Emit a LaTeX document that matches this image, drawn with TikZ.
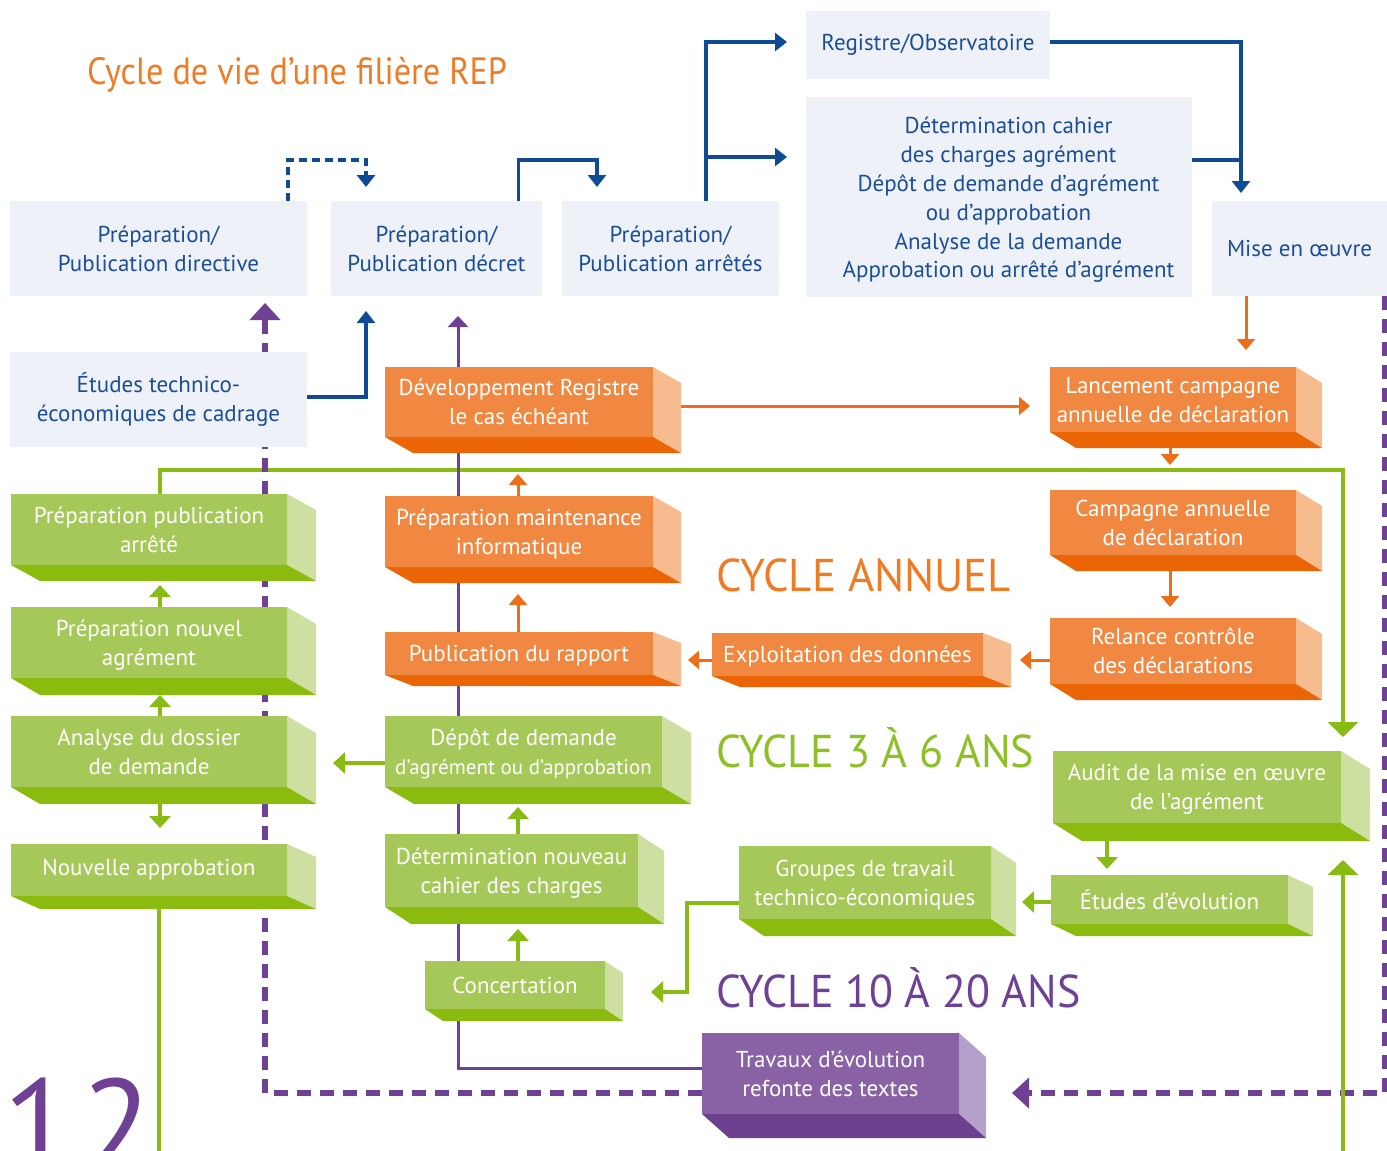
\documentclass[tikz,border=0pt]{standalone}
\usepackage{fontspec}
\setmainfont{PT Sans}
\usetikzlibrary{arrows.meta,calc}
\pgfdeclarelayer{bg}
\pgfsetlayers{bg,main}
\definecolor{colBfill}{HTML}{EEF2F8}
\definecolor{colBtext}{HTML}{1C4E96}
\definecolor{colBline}{HTML}{0E4B94}
\definecolor{colOF}{HTML}{F08842}
\definecolor{colOB}{HTML}{EB6405}
\definecolor{colOS}{HTML}{F6BB8E}
\definecolor{colOline}{HTML}{ED6E16}
\definecolor{colOtitle}{HTML}{EF7B25}
\definecolor{colGF}{HTML}{A5C858}
\definecolor{colGB}{HTML}{8ABB0E}
\definecolor{colGS}{HTML}{CEDFA2}
\definecolor{colGline}{HTML}{88BB14}
\definecolor{colGtitle}{HTML}{8DBF26}
\definecolor{colPF}{HTML}{8862A4}
\definecolor{colPB}{HTML}{6C3F8F}
\definecolor{colPS}{HTML}{B4A0CB}
\definecolor{colPline}{HTML}{6E4194}
\newcommand\mkfaces[5]{%
  \fill[#4] (#1.north east) -- ++(#2,#3) -- ($(#1.south east)+(#2,#3)$) -- (#1.south east) -- cycle;
  \fill[#5] (#1.south west) -- (#1.south east) -- ++(#2,#3) -- ($(#1.south west)+(#2,#3)$) -- cycle;
}
\tikzset{
  every node/.style={inner sep=0pt, outer sep=0pt, align=center},
  boxfont/.style={font=\fontsize{23}{29}\selectfont},
  bb/.style={fill=colBfill, text=colBtext, boxfont},
  of/.style={fill=colOF, text=white, boxfont},
  gf/.style={fill=colGF, text=white, boxfont},
  pf/.style={fill=colPF, text=white, boxfont},
  twol/.style={text depth=-4pt},
  onel/.style={text depth=0pt},
  blueline/.style={draw=colBline, line width=3.2pt},
  barrow/.style={-{Triangle[width=18pt,length=12pt]}},
  orline/.style={draw=colOline, line width=3pt, -{Triangle[width=18pt,length=11pt]}},
  grline/.style={draw=colGline, line width=3.5pt, -{Triangle[width=21pt,length=12pt]}},
  grthick/.style={draw=colGline, line width=4.5pt},
  gbig/.style={-{Triangle[width=30pt,length=15pt]}},
  pudash/.style={draw=colPline, line width=5.5pt, dash pattern=on 14pt off 9pt, -{Triangle[width=30pt,length=17pt]}},
  puline/.style={draw=colPline, line width=3pt, -{Triangle[width=20pt,length=11pt]}},
  bigtext/.style={anchor=base west, font=\fontsize{46}{46}\selectfont},
}
\begin{document}
\begin{tikzpicture}[x=1pt,y=-1pt]
\useasboundingbox (0,0) rectangle (1387,1151);

% titles
\node[anchor=base west, text=colOtitle, font=\fontsize{38}{38}\selectfont] (title) at (87,84) {\scalebox{0.9}[1]{Cycle de vie d’une filière REP}};
\node[bigtext, text=colOtitle] (cyA) at (716,591) {\scalebox{0.975}[1]{CYCLE ANNUEL}};
\node[bigtext, text=colGtitle] (cyB) at (716,767) {\scalebox{0.96}[1]{CYCLE 3 À 6 ANS}};
\node[bigtext, text=colPline] (cyC) at (716,1007) {\scalebox{0.955}[1]{CYCLE 10 À 20 ANS}};
\node[anchor=base west, text=colPline, font=\fontsize{130}{130}\selectfont] (pgnum) at (4,1170) {1\kern7pt2};

% light blue boxes
\node[bb, minimum width=297pt, minimum height=95pt] (dir) at (158.5,248.5) {Préparation/\\Publication directive};
\node[bb, minimum width=211pt, minimum height=95pt] (dec) at (436.5,248.5) {Préparation/\\Publication décret};
\node[bb, minimum width=217pt, minimum height=95pt] (arr) at (670.5,248.5) {Préparation/\\Publication arrêtés};
\node[bb, minimum width=244pt, minimum height=68pt] (reg) at (928,45) {Registre/Observatoire};
\node[bb, minimum width=386pt, minimum height=200pt] (detc) at (999,197) {};
\node[text=colBtext, font=\fontsize{23}{28.8}\selectfont] (detct) at (1008.5,200) {Détermination cahier\\des charges agrément\\Dépôt de demande d’agrément\\ou d’approbation\\Analyse de la demande\\Approbation ou arrêté d’agrément};
\node[bb, minimum width=175pt, minimum height=95pt] (mise) at (1299.5,248.5) {Mise en œuvre};
\node[bb, minimum width=297pt, minimum height=95pt] (etu) at (158.5,399.5) {Études technico-\\économiques de cadrage};

% orange boxes
\node[of, twol, minimum width=268pt, minimum height=70pt] (dev) at (519,402) {Développement Registre\\le cas échéant};
\mkfaces{dev}{28}{16}{colOS}{colOB}
\node[of, twol, minimum width=268pt, minimum height=71pt] (pmi) at (519,531.5) {Préparation maintenance\\informatique};
\mkfaces{pmi}{28}{16}{colOS}{colOB}
\node[of, onel, minimum width=268pt, minimum height=43pt] (pub) at (519,653.5) {Publication du rapport};
\mkfaces{pub}{28}{11}{colOS}{colOB}
\node[of, onel, minimum width=271pt, minimum height=43pt] (exp) at (847.5,654.5) {Exploitation des données};
\mkfaces{exp}{28}{11}{colOS}{colOB}
\node[of, twol, minimum width=246pt, minimum height=65pt] (lan) at (1173,399.5) {Lancement campagne\\annuelle de déclaration};
\mkfaces{lan}{26}{16}{colOS}{colOB}
\node[of, minimum width=246pt, minimum height=65pt] (cam) at (1173,522.5) {Campagne annuelle\\de déclaration};
\mkfaces{cam}{26}{16}{colOS}{colOB}
\node[of, minimum width=246pt, minimum height=66pt] (rel) at (1173,651) {Relance contrôle\\des déclarations};
\mkfaces{rel}{26}{16}{colOS}{colOB}

% green boxes
\node[gf, onel, minimum width=276pt, minimum height=71pt] (ppa) at (149,529.5) {Préparation publication\\arrêté};
\mkfaces{ppa}{29}{16}{colGS}{colGB}
\node[gf, twol, minimum width=276pt, minimum height=71pt] (pna) at (149,642.5) {Préparation nouvel\\agrément};
\mkfaces{pna}{29}{17}{colGS}{colGB}
\node[gf, onel, minimum width=276pt, minimum height=71pt] (ada) at (149,751.5) {Analyse du dossier\\de demande};
\mkfaces{ada}{29}{17}{colGS}{colGB}
\node[gf, minimum width=276pt, minimum height=52pt] (nap) at (149,870) {Nouvelle approbation};
\mkfaces{nap}{29}{13}{colGS}{colGB}
\node[gf, twol, minimum width=277pt, minimum height=71pt] (dep) at (523.5,751.5) {Dépôt de demande\\{\fontsize{21}{29}\selectfont d’agrément ou d’approbation}};
\mkfaces{dep}{29}{17}{colGS}{colGB}
\node[gf, twol, minimum width=253pt, minimum height=73pt] (dnc) at (511.5,870.5) {Détermination nouveau\\cahier des charges};
\mkfaces{dnc}{26}{17}{colGS}{colGB}
\node[gf, minimum width=180pt, minimum height=48pt] (con) at (515,985) {Concertation};
\mkfaces{con}{18}{12}{colGS}{colGB}
\node[gf, twol, minimum width=288pt, minimum height=72pt] (aud) at (1197,787) {Audit de la mise en œuvre\\de l’agrément};
\mkfaces{aud}{29}{18}{colGS}{colGB}
\node[gf, twol, minimum width=252pt, minimum height=73pt] (grp) at (865,882.5) {Groupes de travail\\technico-économiques};
\mkfaces{grp}{25}{17}{colGS}{colGB}
\node[gf, minimum width=237pt, minimum height=49pt] (evo) at (1169.5,899.5) {Études d’évolution};
\mkfaces{evo}{25}{12}{colGS}{colGB}

% purple box
\node[pf, minimum width=257pt, minimum height=81pt] (trav) at (830.5,1073.5) {Travaux d’évolution\\refonte des textes};
\mkfaces{trav}{27}{24}{colPS}{colPB}

% helper coordinates
\coordinate (bj) at ([xshift=35.5pt,yshift=44pt]arr.north);
\coordinate (dj) at ([yshift=37pt]detc.east);
\coordinate (mt) at ([xshift=-58.5pt]mise.north);
\coordinate (m1) at ([xshift=-53.5pt]mise.south);
\coordinate (d1) at ([xshift=28pt,yshift=-4pt]dev.east);
\coordinate (l1) at ([xshift=-3pt,yshift=-16pt]lan.south);
\coordinate (c1) at ([xshift=-3pt,yshift=-16pt]cam.south);
\coordinate (r1) at ([yshift=-9pt]rel.west);
\coordinate (expR) at ([xshift=28pt]exp.east);
\coordinate (e1) at ([yshift=-5.5pt]exp.west);
\coordinate (pubR) at ([xshift=28pt]pub.east);
\coordinate (p1) at ([xshift=-1pt]pub.north);
\coordinate (pmiB) at ([yshift=-16pt]pmi.south);
\coordinate (p2) at ([xshift=-1pt]pmi.north);
\coordinate (devB) at ([yshift=-16pt]dev.south);
\coordinate (gb0) at ([xshift=10pt,yshift=-13pt]nap.south);
\coordinate (gb1) at (159,1160);
\coordinate (gb2) at (1343,1160);
\coordinate (audB) at ([yshift=-18pt]aud.south);
\coordinate (g1) at ([xshift=11pt]pna.north);
\coordinate (ppaB) at ([yshift=-16pt]ppa.south);
\coordinate (g2) at ([xshift=11pt]ada.north);
\coordinate (pnaB) at ([yshift=-17pt]pna.south);
\coordinate (g3) at ([xshift=11pt,yshift=-17pt]ada.south);
\coordinate (g4) at ([yshift=-11.5pt]dep.west);
\coordinate (adaR) at ([xshift=29pt]ada.east);
\coordinate (g5) at ([xshift=6.5pt]dnc.north);
\coordinate (depB) at ([yshift=-17pt]dep.south);
\coordinate (g6) at ([xshift=3pt]con.north);
\coordinate (dncB) at ([yshift=-17pt]dnc.south);
\coordinate (g7) at ([yshift=-20.5pt]grp.west);
\coordinate (conR) at ([xshift=18pt,yshift=-7pt]con.east);
\coordinate (g8) at ([yshift=-2.5pt]evo.west);
\coordinate (grpR) at ([xshift=25pt]grp.east);
\coordinate (g9) at ([xshift=-90pt,yshift=-18pt]aud.south);
\coordinate (t1) at ([yshift=-19.5pt]trav.west);
\coordinate (t2) at ([yshift=5.5pt]trav.west);
\coordinate (travR) at ([xshift=27pt,yshift=-19.5pt]trav.east);

\begin{pgfonlayer}{bg}
% blue connectors
\draw[blueline, barrow, dash pattern=on 8pt off 5pt, shorten >=14pt] ([xshift=-19pt]dir.north east) -- ++(0,-41) -| ([xshift=-70.5pt]dec.north);
\draw[blueline, barrow, shorten >=14pt] ([xshift=-23.5pt]dec.north east) -- ++(0,-41) -| ([xshift=-73.5pt]arr.north);
\draw[blueline, barrow, shorten >=19pt] ([xshift=35.5pt]arr.north) |- ([yshift=3pt]reg.west);
\draw[blueline, barrow, shorten >=19pt] (bj) -- (bj -| detc.west);
\draw[blueline, barrow, shorten >=8pt] ([yshift=3pt]reg.east) -| (mt);
\draw[blueline] (dj) -- (dj -| mt);
\draw[blueline, barrow, shorten >=15pt] ([yshift=2.5pt]etu.east) -| ([xshift=-70.5pt]dec.south);
% orange connectors
\draw[orline, shorten >=17pt] (m1) -- (m1 |- lan.north);
\draw[orline, shorten >=20pt] (d1) -- (d1 -| lan.west);
\draw[orline, shorten >=25pt] (l1) -- (l1 |- cam.north);
\draw[orline, shorten >=11pt] (c1) -- (c1 |- rel.north);
\draw[orline, shorten >=9pt] (r1) -- (r1 -| expR);
\draw[orline, shorten >=7pt] (e1) -- (e1 -| pubR);
\draw[orline, shorten >=11pt] (p1) -- (p1 |- pmiB);
\draw[orline, shorten >=21pt] (p2) -- (p2 |- devB);
% green connectors
\draw[grthick, gbig, shorten >=14pt] ([xshift=11pt]ppa.north) -- ++(0,-24) -| ([xshift=146pt]aud.north);
\draw[grline, shorten >=4pt] (g1) -- (g1 |- ppaB);
\draw[grline] (g2) -- (g2 |- pnaB);
\draw[grline, shorten >=16pt] (g3) -- (g3 |- nap.north);
\draw[grline, shorten >=17pt] (g4) -- (g4 -| adaR);
\draw[grline, shorten >=3pt] (g5) -- (g5 |- depB);
\draw[grline, shorten >=5pt] (g6) -- (g6 |- dncB);
\draw[grline, shorten >=28pt] (g7) -- ++(-52,0) |- (conR);
\draw[grline, shorten >=6pt] (g8) -- (g8 -| grpR);
\draw[grline, shorten >=6pt] (g9) -- (g9 |- evo.north);
% purple connectors
\draw[pudash, shorten >=7pt] (t1) -| ([xshift=106.5pt]dir.south);
\draw[pudash, shorten >=26pt] ([xshift=-2pt]mise.south east) |- (travR);
\draw[puline, shorten >=20pt] (t2) -| ([xshift=21.5pt]dec.south);
% green loop through the page bottom
\draw[grthick] (gb0) -- (gb1);
\draw[grthick, gbig, shorten >=19pt] (gb2) -- (gb2 |- audB);
\end{pgfonlayer}
\end{tikzpicture}
\end{document}
